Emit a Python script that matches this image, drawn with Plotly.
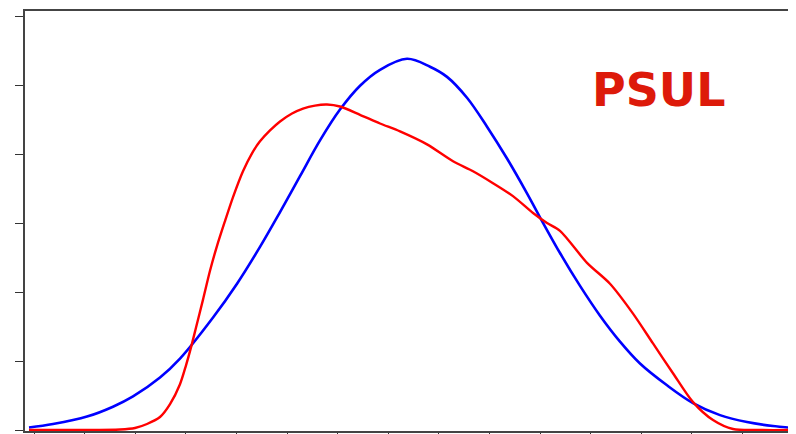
import plotly.graph_objects as go

# Blue curve (x and y in tick units)
blue_x = [-0.099, 0.375, 1.047, 1.561, 1.957, 2.490, 2.885, 3.538, 4.012, 4.466, 4.862,
          5.257, 5.652, 6.047, 6.443, 6.838, 7.372, 7.826, 8.162, 8.557, 8.953, 9.348,
          9.743, 9.960, 10.395, 10.791, 11.186, 11.581, 11.976, 12.510, 13.024, 13.557,
          14.091, 14.605, 15.040]
blue_y = [0.036, 0.087, 0.195, 0.338, 0.487, 0.760, 1.035, 1.631, 2.121, 2.655, 3.160,
          3.680, 4.199, 4.646, 4.992, 5.223, 5.382, 5.267, 5.120, 4.817, 4.398, 3.936,
          3.431, 3.137, 2.566, 2.089, 1.657, 1.281, 0.964, 0.648, 0.390, 0.216,
          0.115, 0.058, 0.029]

# Red curve
red_x = [-0.099, 0.909, 1.700, 1.996, 2.233, 2.490, 2.688, 2.885, 3.004, 3.103, 3.202,
         3.340, 3.478, 3.617, 3.775, 3.933, 4.130, 4.308, 4.466, 4.664, 4.862, 5.099,
         5.316, 5.553, 5.791, 6.047, 6.443, 6.838, 7.233, 7.767, 8.281, 8.676, 9.071,
         9.466, 9.862, 10.138, 10.395, 10.929, 11.383, 11.838, 12.233, 12.628, 13.024,
         13.419, 13.814, 14.348, 15.040]
red_y = [0.0, 0.0, 0.007, 0.029, 0.087, 0.188, 0.375, 0.664, 0.938, 1.198, 1.486,
         1.890, 2.309, 2.670, 3.030, 3.377, 3.752, 4.012, 4.185, 4.343, 4.473, 4.589,
         4.661, 4.704, 4.719, 4.690, 4.570, 4.444, 4.329, 4.141, 3.896, 3.752, 3.579,
         3.391, 3.146, 3.001, 2.886, 2.424, 2.121, 1.688, 1.255, 0.823, 0.404,
         0.144, 0.014, 0.0, 0.0]

x_ticks = list(range(16))
y_ticks = list(range(7))
label_text = "PSUL"

fig = go.Figure()
fig.add_trace(go.Scatter(x=blue_x, y=blue_y, mode="lines",
                         line=dict(color="#0000ff", width=2.6, shape="spline", smoothing=1.0),
                         hoverinfo="skip"))
fig.add_trace(go.Scatter(x=red_x, y=red_y, mode="lines",
                         line=dict(color="#ff0000", width=2.4, shape="spline", smoothing=0.8),
                         hoverinfo="skip"))

fig.add_annotation(x=12.35, y=4.928, xref="x", yref="y", text="<b>" + label_text + "</b>",
                   showarrow=False, xanchor="center", yanchor="middle",
                   font=dict(family="DejaVu Sans, Verdana, sans-serif", size=46, color="#dd1a0a"))

fig.update_layout(
    width=796, height=434,
    margin=dict(l=17, r=8, t=1, b=11),
    paper_bgcolor="white", plot_bgcolor="white",
    showlegend=False,
)
fig.update_xaxes(range=[-0.178, 15.059], tickvals=x_ticks, showticklabels=False,
                 ticks="outside", ticklen=3, tickwidth=1.2, tickcolor="#333",
                 showline=True, linecolor="#444", linewidth=1.6, mirror=True,
                 showgrid=False, zeroline=False, layer="below traces")
fig.update_yaxes(range=[-0.0144, 6.075], tickvals=y_ticks, showticklabels=False,
                 ticks="outside", ticklen=8, tickwidth=1.2, tickcolor="#333",
                 showline=True, linecolor="#444", linewidth=1.6, mirror=False,
                 showgrid=False, zeroline=False, layer="below traces")

fig.write_html("out.html")
